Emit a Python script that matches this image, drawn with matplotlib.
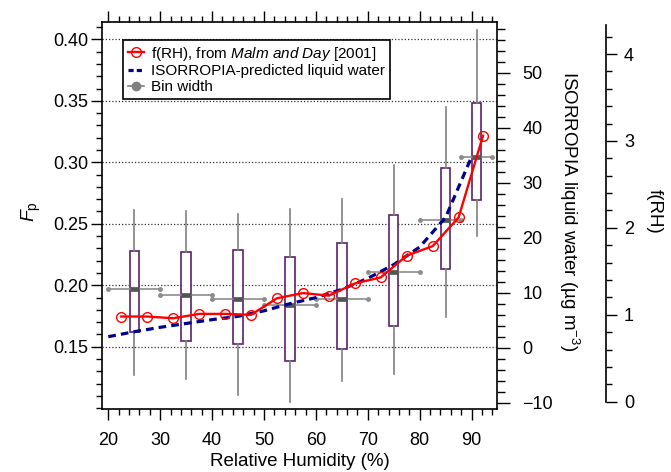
import numpy as np
import matplotlib
matplotlib.use("Agg")
import matplotlib.pyplot as plt
from matplotlib.ticker import MultipleLocator, FixedLocator
from matplotlib.lines import Line2D

plt.rcParams["font.family"] = ["Liberation Sans", "DejaVu Sans"]
plt.rcParams["mathtext.fontset"] = "custom"
plt.rcParams["mathtext.rm"] = "Liberation Sans"
plt.rcParams["mathtext.it"] = "Liberation Sans:italic"

# ---------------- data ----------------
# Fp box statistics per RH bin
box_rh = [25, 35, 45, 55, 65, 75, 85, 91]
bin_lo = [20, 30, 40, 50, 60, 70, 80, 88]
bin_hi = [30, 40, 50, 60, 70, 80, 88, 94]
fp_med = [0.197, 0.192, 0.189, 0.184, 0.189, 0.211, 0.253, 0.304]
fp_q1 = [0.162, 0.155, 0.152, 0.138, 0.148, 0.167, 0.213, 0.269]
fp_q3 = [0.228, 0.227, 0.229, 0.223, 0.234, 0.257, 0.295, 0.348]
fp_lo = [0.127, 0.124, 0.111, 0.105, 0.122, 0.128, 0.174, 0.240]
fp_hi = [0.261, 0.260, 0.258, 0.262, 0.270, 0.298, 0.345, 0.408]

# f(RH), Malm and Day (2001)
frh_rh = [22.5, 27.5, 32.5, 37.5, 42.5, 47.5, 52.5, 57.5, 62.5, 67.5, 72.5, 77.5, 82.5, 87.5, 92.2]
frh = [0.98, 0.98, 0.96, 1.01, 1.01, 1.00, 1.19, 1.25, 1.22, 1.36, 1.43, 1.68, 1.79, 2.12, 3.06]

# ISORROPIA liquid water (ug m-3)
lw_rh = [20, 25, 30, 35, 40, 45, 50, 55, 60, 65, 70, 75, 80, 85, 90]
lw = [2.0, 2.9, 3.7, 4.4, 5.1, 5.7, 6.7, 8.0, 9.1, 10.6, 12.6, 15.1, 18.3, 23.7, 34.7]

fp_grid = [0.15, 0.20, 0.25, 0.30, 0.35, 0.40]
x_ticks = [20, 30, 40, 50, 60, 70, 80, 90]

PURPLE = "#5c1f6e"
GRAY = "#808080"
BLUE = "#00008b"
TICK_FS = 13
LABEL_FS = 13.5

fig = plt.figure(figsize=(6.71, 4.72), dpi=100)
ax = fig.add_axes([0.1516, 0.1335, 0.5898, 0.8199])

ax.set_xlim(18.73, 94.99)
ax.set_ylim(0.0993, 0.4142)

for g in fp_grid:
    ax.axhline(g, color="#333333", lw=0.9, dashes=(1, 1.6), zorder=0.5)

stats = []
for i in range(len(box_rh)):
    stats.append(dict(med=fp_med[i], q1=fp_q1[i], q3=fp_q3[i],
                      whislo=fp_lo[i], whishi=fp_hi[i], fliers=[]))

ax.bxp(stats, positions=box_rh, widths=1.8, patch_artist=True,
       showcaps=False, showfliers=False, manage_ticks=False,
       boxprops=dict(facecolor="white", edgecolor=PURPLE, linewidth=1.2),
       whiskerprops=dict(color=GRAY, linewidth=1.2),
       medianprops=dict(color="#555555", linewidth=3.4, solid_capstyle="butt", zorder=4))

# bin width bars at the median
for i in range(len(box_rh)):
    ax.plot([bin_lo[i], bin_hi[i]], [fp_med[i], fp_med[i]], color="#8c8c8c",
            lw=1.2, marker="o", ms=2.5, zorder=3)

ax.xaxis.set_major_locator(FixedLocator(x_ticks))
ax.xaxis.set_minor_locator(MultipleLocator(2))
ax.yaxis.set_major_locator(FixedLocator(fp_grid))
ax.yaxis.set_minor_locator(MultipleLocator(0.01))
ax.yaxis.set_major_formatter(plt.FormatStrFormatter("%.2f"))

ax.tick_params(which="major", direction="out", length=8, width=1, labelsize=TICK_FS)
ax.tick_params(which="minor", direction="out", length=4.5, width=1)
ax.tick_params(axis="x", which="both", top=True, labeltop=False)
ax.tick_params(axis="x", which="major", pad=8.5)
ax.tick_params(axis="y", which="both", right=False, pad=1.5)
for s in ax.spines.values():
    s.set_linewidth(1.2)
ax.spines["right"].set_visible(False)

ax.set_xlabel("Relative Humidity (%)", fontsize=LABEL_FS, labelpad=3)
ax.text(-0.178, 0.51, r"$\mathit{F}_\mathrm{p}$", transform=ax.transAxes,
        rotation=90, ha="center", va="center", fontsize=14)

# ---------------- liquid water axis ----------------
ax2 = ax.twinx()
ax2.set_ylim(-11.15, 59.22)
for k in ["left", "top", "bottom"]:
    ax2.spines[k].set_visible(False)
ax2.spines["right"].set_linewidth(1.2)
ax2.yaxis.set_major_locator(MultipleLocator(10))
ax2.yaxis.set_minor_locator(MultipleLocator(2))
ax2.tick_params(which="major", direction="out", length=9, width=1, labelsize=TICK_FS, pad=9)
ax2.tick_params(which="minor", direction="out", length=6, width=1)
ax2.plot(lw_rh, lw, color=BLUE, lw=2.3, dashes=(2.4, 1.6), zorder=3)
ax2.text(1.181, 0.51, "ISORROPIA liquid water (\u00b5g m$^{-3}$)", transform=ax2.transAxes,
         rotation=270, ha="center", va="center", fontsize=LABEL_FS)

# ---------------- f(RH) axis ----------------
ax3 = ax.twinx()
ax3.set_ylim(-0.084, 4.369)
for k in ["left", "top", "bottom"]:
    ax3.spines[k].set_visible(False)
ax3.spines["right"].set_position(("axes", 1.274))
ax3.spines["right"].set_bounds(0, 4.33)
ax3.spines["right"].set_linewidth(1.2)
ax3.yaxis.set_major_locator(MultipleLocator(1))
ax3.yaxis.set_minor_locator(MultipleLocator(0.2))
ax3.tick_params(which="major", direction="out", length=8, width=1, labelsize=TICK_FS, pad=5)
ax3.tick_params(which="minor", direction="out", length=4.5, width=1)
ax3.plot(frh_rh, frh, color="red", lw=1.7, marker="o", ms=7, mfc="none",
         mec="red", mew=1.0, zorder=4)
ax3.text(1.397, 0.51, "f(RH)", transform=ax3.transAxes,
         rotation=270, ha="center", va="center", fontsize=LABEL_FS)

handles = [
    Line2D([], [], color="red", lw=1.7, marker="o", ms=7, mfc="none", mec="red"),
    Line2D([], [], color=BLUE, lw=2.3, dashes=(1.6, 1.0)),
    Line2D([], [], color=GRAY, lw=1.2, marker="o", ms=6),
]
labels = [
    r"f(RH), from $\mathit{Malm\ and\ Day}$ [2001]",
    "ISORROPIA-predicted liquid water",
    "Bin width",
]
leg = ax3.legend(handles, labels, loc="upper left", bbox_to_anchor=(0.0538, 0.9535),
                 borderaxespad=0, fontsize=11, frameon=True, fancybox=False,
                 framealpha=1, edgecolor="black", handlelength=1.1,
                 handletextpad=0.45, labelspacing=0.12, borderpad=0.3)
leg.get_frame().set_linewidth(1.2)

fig.savefig("out.png", dpi=100)
